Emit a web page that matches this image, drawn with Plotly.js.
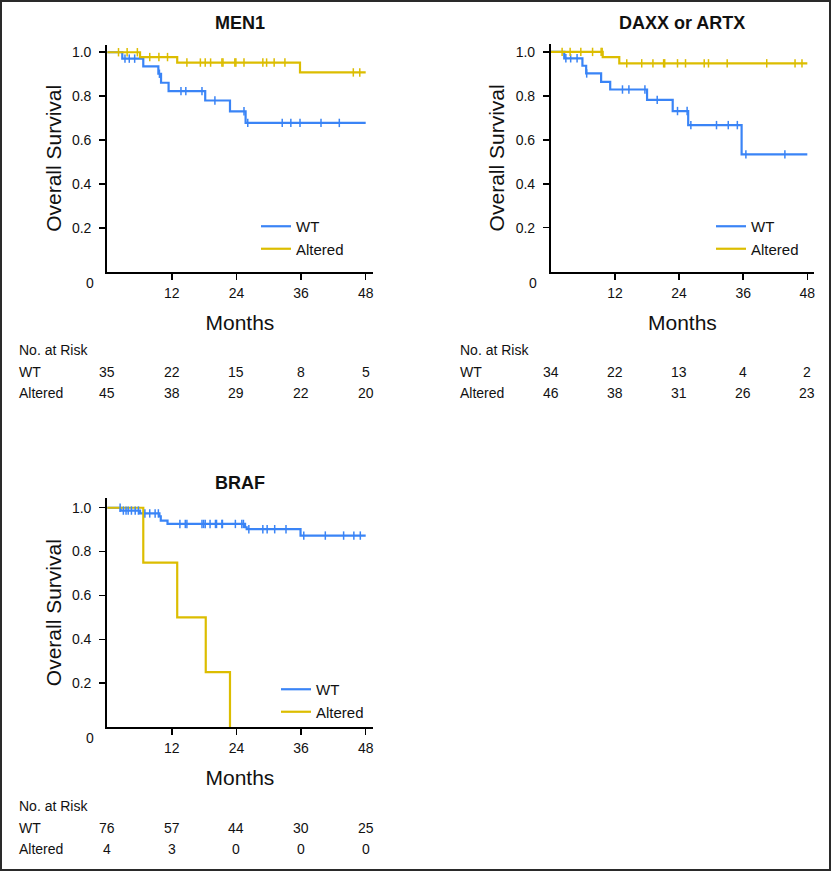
<!DOCTYPE html>
<html>
<head>
<meta charset="utf-8">
<script src="https://cdn.plot.ly/plotly-3.0.1.min.js"></script>
<style>
  html, body { margin: 0; padding: 0; background: #fff; }
  #wrap { position: relative; width: 832px; height: 872px; }
  #chart { position: absolute; left: 0; top: 0; width: 832px; height: 872px; }
  #frame { position: absolute; left: 0; top: 0; width: 831px; height: 871px; border: 2px solid #2a2a2a; box-sizing: border-box; pointer-events: none; }
</style>
</head>
<body>
<div id="wrap"><div id="chart"></div><div id="frame"></div></div>
<script>
// ---------- DATA ----------
const riskMonths = [0, 12, 24, 36, 48];

// MEN1
const men1WtTime  = [0, 2.8, 6.7, 9.5, 10.0, 11.4, 18.2, 22.8, 25.7, 48];
const men1WtSurv  = [1.0, 0.971, 0.936, 0.902, 0.861, 0.823, 0.780, 0.731, 0.678, 0.678];
const men1WtCens  = [3.3, 4.1, 5.1, 9.7, 13.7, 14.6, 17.6, 20.0, 25.4, 26.1, 32.5, 34.1, 35.8, 39.7, 43.1];
const men1AltTime = [0, 6.1, 13.0, 35.8, 48];
const men1AltSurv = [1.0, 0.978, 0.953, 0.908, 0.908];
const men1AltCens = [2.1, 3.7, 5.6, 7.9, 9.6, 11.2, 14.8, 17.3, 18.2, 19.2, 21.3, 21.5, 23.7, 23.9, 25.4, 28.9, 29.6, 31.0, 33.0, 45.7, 46.9];
const men1RiskWt  = [35, 22, 15, 8, 5];
const men1RiskAlt = [45, 38, 29, 22, 20];

// DAXX or ARTX
const daxxWtTime  = [0, 2.5, 5.9, 6.6, 9.4, 11.1, 18.0, 22.8, 25.7, 35.7, 48];
const daxxWtSurv  = [1.0, 0.971, 0.937, 0.902, 0.864, 0.829, 0.782, 0.731, 0.667, 0.534, 0.534];
const daxxWtCens  = [2.8, 3.7, 4.9, 6.7, 13.4, 14.6, 17.6, 19.9, 23.7, 25.5, 26.2, 31.0, 33.2, 34.9, 36.5, 43.8];
const daxxAltTime = [0, 9.7, 12.8, 48];
const daxxAltSurv = [1.0, 0.976, 0.948, 0.948];
const daxxAltCens = [2.1, 3.6, 5.6, 7.8, 9.4, 9.6, 14.2, 17.0, 19.1, 21.1, 21.3, 23.7, 25.2, 28.7, 29.5, 33.0, 40.4, 45.7, 47.0];
const daxxRiskWt  = [34, 22, 13, 4, 2];
const daxxRiskAlt = [46, 38, 31, 26, 23];

// BRAF
const brafWtTime  = [0, 2.5, 6.1, 9.7, 9.95, 11.2, 25.6, 25.9, 35.9, 48];
const brafWtSurv  = [1.0, 0.987, 0.974, 0.961, 0.941, 0.926, 0.911, 0.902, 0.873, 0.873];
const brafWtCens  = [2.4, 3.0, 3.5, 3.9, 4.5, 5.2, 5.8, 7.0, 7.9, 8.9, 9.5, 13.5, 14.5, 14.8, 17.6, 17.9, 18.2, 19.1, 20.1, 20.3, 21.3, 21.4, 23.8, 25.0, 25.3, 26.3, 28.9, 29.7, 31.1, 33.2, 36.5, 40.5, 43.9, 45.8, 47.0];
const brafAltTime = [0, 6.7, 13.0, 18.3, 22.8];
const brafAltSurv = [1.0, 0.75, 0.5, 0.25, 0];
const brafAltCens = [];
const brafRiskWt  = [76, 57, 44, 30, 25];
const brafRiskAlt = [4, 3, 0, 0, 0];

const panelTitles = ['MEN1', 'DAXX or ARTX', 'BRAF'];
const groupNames = ['WT', 'Altered'];
const yTickVals = [0.2, 0.4, 0.6, 0.8, 1.0];
const yTickText = ['0.2', '0.4', '0.6', '0.8', '1.0'];

// ---------- STYLE ----------
const BLUE = '#3a84f6';
const YELLOW = '#dcbd00';
const FONT = 'Liberation Sans, Arial, Helvetica, sans-serif';
const W = 832, H = 872;
const px = v => v / W;      // x pixel -> paper
const py = v => 1 - v / H;  // y pixel -> paper

function stepAt(times, surv, x) {
  let v = surv[0];
  for (let i = 0; i < times.length; i++) if (times[i] <= x) v = surv[i];
  return v;
}

const panels = [
  { xa: 'x',  ya: 'y',  legend: 'legend',
    wt: [men1WtTime, men1WtSurv, men1WtCens], alt: [men1AltTime, men1AltSurv, men1AltCens],
    risk: [men1RiskWt, men1RiskAlt] },
  { xa: 'x2', ya: 'y2', legend: 'legend2',
    wt: [daxxWtTime, daxxWtSurv, daxxWtCens], alt: [daxxAltTime, daxxAltSurv, daxxAltCens],
    risk: [daxxRiskWt, daxxRiskAlt] },
  { xa: 'x3', ya: 'y3', legend: 'legend3',
    wt: [brafWtTime, brafWtSurv, brafWtCens], alt: [brafAltTime, brafAltSurv, brafAltCens],
    risk: [brafRiskWt, brafRiskAlt] }
];

const traces = [];
panels.forEach(p => {
  [[p.wt, BLUE, groupNames[0]], [p.alt, YELLOW, groupNames[1]]].forEach(([d, col, name]) => {
    traces.push({
      type: 'scatter', mode: 'lines', x: d[0], y: d[1], name: name,
      xaxis: p.xa, yaxis: p.ya, legend: p.legend,
      line: { shape: 'hv', color: col, width: 2.2 }, hoverinfo: 'skip'
    });
  });
  [[p.wt, BLUE, groupNames[0]], [p.alt, YELLOW, groupNames[1]]].forEach(([d, col, name]) => {
    if (!d[2].length) return;
    traces.push({
      type: 'scatter', mode: 'markers', x: d[2], y: d[2].map(c => stepAt(d[0], d[1], c)),
      name: name + ' censored', showlegend: false, xaxis: p.xa, yaxis: p.ya,
      marker: { symbol: 'line-ns-open', size: 6, color: col, line: { color: col, width: 1.5 } },
      hoverinfo: 'skip', cliponaxis: false
    });
  });
});

function xAxis(domain, range, anchor) {
  return {
    anchor: anchor, domain: domain, range: range, tickvals: [12, 24, 36, 48], ticktext: ['12', '24', '36', '48'],
    ticks: 'outside', ticklen: 6, tickwidth: 1.5, tickcolor: '#000', ticklabelstandoff: 1,
    showline: true, linewidth: 2, linecolor: '#000', showgrid: false, zeroline: false,
    tickfont: { family: FONT, size: 14, color: '#111' },
    title: { text: 'Months', font: { family: FONT, size: 21, color: '#111' }, standoff: 16 },
    fixedrange: true
  };
}
function yAxis(domain, range, anchor) {
  return {
    anchor: anchor, domain: domain, range: range, tickvals: yTickVals, ticktext: yTickText,
    ticks: 'outside', ticklen: 6, tickwidth: 1.5, tickcolor: '#000', ticklabelstandoff: 5,
    showline: true, linewidth: 2, linecolor: '#000', showgrid: false, zeroline: false,
    tickfont: { family: FONT, size: 14, color: '#111' },
    title: { text: 'Overall Survival', font: { family: FONT, size: 21, color: '#111' }, standoff: 5 },
    fixedrange: true
  };
}

function legendAt(xPix, yPix) {
  return {
    x: px(xPix), y: py(yPix), xanchor: 'left', yanchor: 'top',
    bgcolor: 'rgba(0,0,0,0)', borderwidth: 0,
    font: { family: FONT, size: 15, color: '#111' }, tracegroupgap: 0
  };
}

const annotations = [];
// panel titles
[[panelTitles[0], 'x', 23], [panelTitles[1], 'x2', 23], [panelTitles[2], 'x3', 483]].forEach(([t, xa, yPix]) => {
  annotations.push({ text: '<b>' + t + '</b>', xref: xa + ' domain', x: 0.5, yref: 'paper', y: py(yPix),
    xanchor: 'center', yanchor: 'middle', showarrow: false, font: { family: FONT, size: 18, color: '#111' } });
});
// origin "0" labels
[[90, 283], [533, 283], [90, 738]].forEach(([xp, yp]) => {
  annotations.push({ text: '0', xref: 'paper', yref: 'paper', x: px(xp), y: py(yp),
    xanchor: 'center', yanchor: 'middle', showarrow: false, font: { family: FONT, size: 14, color: '#111' } });
});
// risk tables
const tableRows = [[350, 372, 393], [350, 372, 393], [806, 828, 849]];
const tableLeft = [17, 458, 17];
panels.forEach((p, i) => {
  const rows = tableRows[i];
  annotations.push({ text: 'No. at Risk', xref: 'paper', yref: 'paper', x: px(tableLeft[i]), y: py(rows[0]),
    xanchor: 'left', yanchor: 'middle', showarrow: false, font: { family: FONT, size: 14, color: '#111' } });
  groupNames.forEach((g, gi) => {
    annotations.push({ text: g, xref: 'paper', yref: 'paper', x: px(tableLeft[i]), y: py(rows[gi + 1]),
      xanchor: 'left', yanchor: 'middle', showarrow: false, font: { family: FONT, size: 14, color: '#111' } });
    riskMonths.forEach((m, mi) => {
      annotations.push({ text: String(p.risk[gi][mi]), xref: p.xa, yref: 'paper', x: m, y: py(rows[gi + 1]),
        xanchor: 'center', yanchor: 'middle', showarrow: false, font: { family: FONT, size: 14, color: '#111' } });
    });
  });
});

const layout = {
  width: W, height: H, margin: { l: 0, r: 0, t: 0, b: 0 },
  paper_bgcolor: '#fff', plot_bgcolor: '#fff',
  font: { family: FONT, color: '#111' },
  xaxis:  xAxis([px(107.2), px(372.7)], [0, 49.3], 'y'),
  yaxis:  yAxis([py(271.7), py(45)], [0, 1.033], 'x'),
  xaxis2: xAxis([px(550.9), px(814)], [0, 49.25], 'y2'),
  yaxis2: yAxis([py(271.7), py(44)], [0, 1.036], 'x2'),
  xaxis3: xAxis([px(107.2), px(372.7)], [0, 49.3], 'y3'),
  yaxis3: yAxis([py(727), py(498.3)], [0, 1.043], 'x3'),
  legend:  legendAt(256, 210),
  legend2: legendAt(711, 210),
  legend3: legendAt(276, 673),
  showlegend: true,
  annotations: annotations
};

Plotly.newPlot('chart', traces, layout, { staticPlot: true, displayModeBar: false });
</script>
</body>
</html>
